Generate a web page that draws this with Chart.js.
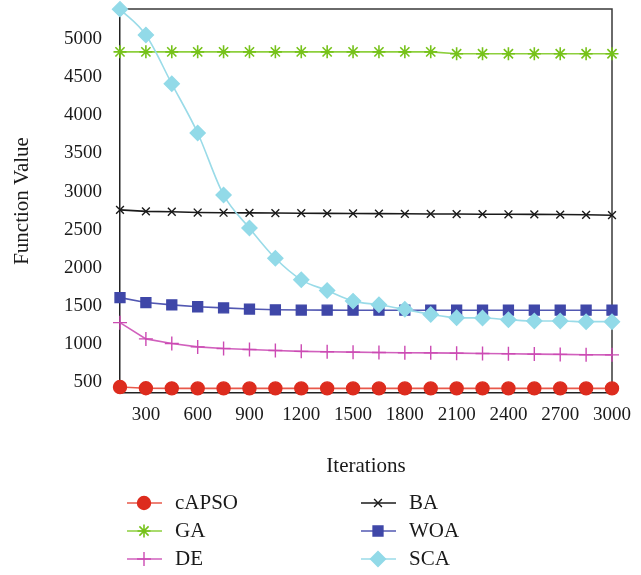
<!DOCTYPE html>
<html>
<head>
<meta charset="utf-8">
<script src="https://cdn.jsdelivr.net/npm/chart.js@4/dist/chart.umd.min.js"></script>
<style>
  html, body { margin: 0; padding: 0; background: #fff; }
  #wrap { width: 641px; height: 575px; position: relative; }
</style>
</head>
<body>
<div id="wrap"><canvas id="conv" width="641" height="575"></canvas></div>
<script>
// iterations on the x axis
const iterations = [150, 300, 450, 600, 750, 900, 1050, 1200, 1350, 1500,
  1650, 1800, 1950, 2100, 2250, 2400, 2550, 2700, 2850, 3000];
const xTicks = [300, 600, 900, 1200, 1500, 1800, 2100, 2400, 2700, 3000];
const yTicks = [500, 1000, 1500, 2000, 2500, 3000, 3500, 4000, 4500, 5000];

// best function value per algorithm
const capso = [438, 422, 421, 420, 420, 420, 420, 420, 420, 420,
  420, 420, 420, 420, 420, 420, 420, 420, 420, 420];
const ga = [4830, 4830, 4830, 4830, 4830, 4830, 4830, 4830, 4830, 4830,
  4830, 4830, 4830, 4805, 4805, 4805, 4805, 4805, 4805, 4805];
const de = [1282, 1069, 1008, 964, 943, 930, 917, 906, 900, 895,
  891, 887, 886, 882, 878, 874, 870, 866, 862, 860];
const ba = [2760, 2740, 2735, 2725, 2722, 2720, 2718, 2716, 2714, 2712,
  2710, 2708, 2706, 2705, 2703, 2702, 2700, 2698, 2695, 2690];
const woa = [1610, 1545, 1515, 1490, 1475, 1460, 1450, 1447, 1446, 1445,
  1445, 1445, 1445, 1445, 1445, 1445, 1445, 1445, 1445, 1445];
const sca = [5390, 5050, 4411, 3767, 2955, 2521, 2125, 1843, 1703, 1564,
  1517, 1456, 1390, 1347, 1343, 1321, 1303, 1303, 1295, 1295];

const FONT = "'Liberation Serif', 'DejaVu Serif', serif";

function pts(values) {
  return values.map((v, i) => ({ x: iterations[i], y: v }));
}

function series(label, values, opts) {
  return Object.assign({
    label: label,
    data: pts(values),
    borderWidth: 1.6,
    pointBorderWidth: 1.4,
    tension: 0,
    clip: false,
  }, opts);
}

const datasets = [
  series('cAPSO', capso, {
    borderColor: '#e8584a', pointBackgroundColor: '#dd2c1e', pointBorderColor: '#dd2c1e',
    pointStyle: 'circle', pointRadius: 6.5, order: 0, legendCol: 0, legendRow: 0,
  }),
  series('GA', ga, {
    borderColor: '#8dcf3c', pointBackgroundColor: '#76c21a', pointBorderColor: '#76c21a',
    pointStyle: 'star', pointRadius: 6.5, pointBorderWidth: 1.6, order: 4, legendCol: 0, legendRow: 1,
  }),
  series('DE', de, {
    borderColor: '#d160bd', pointBackgroundColor: '#cc4ab3', pointBorderColor: '#cc4ab3',
    pointStyle: 'cross', pointRadius: 7, order: 2, legendCol: 0, legendRow: 2,
  }),
  series('BA', ba, {
    borderColor: '#1a1a1a', pointBackgroundColor: '#1a1a1a', pointBorderColor: '#1a1a1a',
    pointStyle: 'crossRot', pointRadius: 5.5, order: 5, legendCol: 1, legendRow: 0,
  }),
  series('WOA', woa, {
    borderColor: '#5258b2', pointBackgroundColor: '#3f47a8', pointBorderColor: '#3f47a8',
    pointStyle: 'rect', pointRadius: 7, order: 3, legendCol: 1, legendRow: 1,
  }),
  series('SCA', sca, {
    borderColor: '#9adbe8', pointBackgroundColor: '#92dae8', pointBorderColor: '#92dae8',
    pointStyle: 'rectRot', pointRadius: 7.5, cubicInterpolationMode: 'monotone', order: 1,
    legendCol: 1, legendRow: 2,
  }),
];

// top and right frame lines
const frame = {
  id: 'frame',
  beforeDatasetsDraw(chart) {
    const { ctx, chartArea: a } = chart;
    ctx.save();
    ctx.strokeStyle = '#3a3a3a';
    ctx.lineWidth = 1.5;
    ctx.beginPath();
    ctx.moveTo(a.left, a.top);
    ctx.lineTo(a.right, a.top);
    ctx.lineTo(a.right, a.bottom);
    ctx.stroke();
    ctx.restore();
  },
};

// two-column legend under the axis title
const legendCols = [127, 361];
const legendRows = [503, 531, 559];
const bottomLegend = {
  id: 'bottomLegend',
  afterDraw(chart) {
    const ctx = chart.ctx;
    chart.data.datasets.forEach(ds => {
      const x0 = legendCols[ds.legendCol];
      const y = legendRows[ds.legendRow];
      ctx.save();
      ctx.strokeStyle = ds.borderColor;
      ctx.lineWidth = ds.borderWidth;
      ctx.beginPath();
      ctx.moveTo(x0, y);
      ctx.lineTo(x0 + 35, y);
      ctx.stroke();
      ctx.fillStyle = ds.pointBackgroundColor;
      ctx.strokeStyle = ds.pointBorderColor;
      ctx.lineWidth = ds.pointBorderWidth;
      Chart.helpers.drawPoint(ctx, {
        pointStyle: ds.pointStyle,
        radius: ds.pointRadius,
        borderWidth: ds.pointBorderWidth,
        rotation: 0,
      }, x0 + 17, y);
      ctx.fillStyle = '#1a1a1a';
      ctx.font = '21px ' + FONT;
      ctx.textBaseline = 'middle';
      ctx.textAlign = 'left';
      ctx.fillText(ds.label, x0 + 48, y);
      ctx.restore();
    });
  },
};

const plain = v => String(v);

new Chart(document.getElementById('conv'), {
  type: 'line',
  data: { datasets },
  plugins: [frame, bottomLegend],
  options: {
    responsive: false,
    animation: false,
    layout: { padding: { left: 0, right: 29, top: 7, bottom: 92 } },
    plugins: {
      legend: { display: false },
      tooltip: { enabled: false },
    },
    scales: {
      x: {
        type: 'linear',
        min: 150,
        max: 3000,
        afterBuildTicks: s => { s.ticks = xTicks.map(v => ({ value: v })); },
        afterFit: s => { s.height = 90; s.paddingLeft = 0; s.paddingRight = 0; },
        grid: { display: false, drawOnChartArea: false, drawTicks: true, tickLength: 6, tickColor: '#222', tickWidth: 1.2 },
        border: { color: '#222', width: 1.5 },
        ticks: { color: '#1a1a1a', font: { family: FONT, size: 19 }, padding: 5, maxRotation: 0, autoSkip: false, callback: plain },
        title: { display: true, text: 'Iterations', color: '#1a1a1a', font: { family: FONT, size: 21 }, padding: { top: 22 } },
      },
      y: {
        min: 360,
        max: 5393,
        afterBuildTicks: s => { s.ticks = yTicks.map(v => ({ value: v })); },
        afterFit: s => { s.width = 120; s.paddingTop = 0; s.paddingBottom = 0; },
        grid: { display: false, drawOnChartArea: false, drawTicks: true, tickLength: 6, tickColor: '#222', tickWidth: 1.2 },
        border: { color: '#222', width: 1.5 },
        ticks: { color: '#1a1a1a', font: { family: FONT, size: 19 }, padding: 12, callback: plain },
        title: { display: true, text: 'Function Value', color: '#1a1a1a', font: { family: FONT, size: 21 }, padding: { top: 10, bottom: 0 } },
      },
    },
  },
});
</script>
</body>
</html>
